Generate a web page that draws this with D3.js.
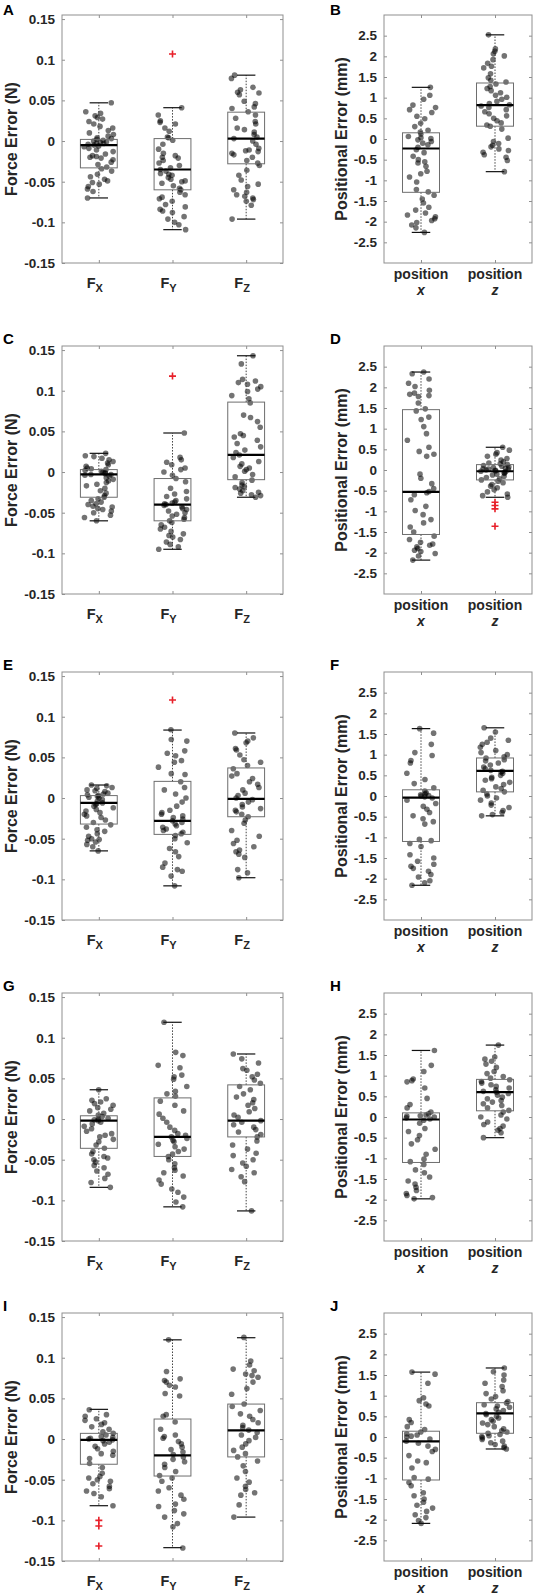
<!DOCTYPE html>
<html>
<head>
<meta charset="utf-8">
<script src="https://cdn.jsdelivr.net/npm/d3@7"></script>
<style>
  body { margin: 0; background: #fff; }
  svg { display: block; }
</style>
</head>
<body>
<div id="chart"></div>
<script>
    'use strict';

    // ---- data -------------------------------------------------------------
    var forceCats = ['X', 'Y', 'Z'];
    var posCats = ['x', 'z'];
    var forceTicks = [-0.15, -0.1, -0.05, 0, 0.05, 0.1, 0.15];
    var posTicks = [-2.5, -2, -1.5, -1, -0.5, 0, 0.5, 1, 1.5, 2, 2.5];

    // box stats per group: [lower whisker, q1, median, q3, upper whisker]
    var statsA = [[-0.070, -0.033, -0.005, 0.002, 0.047], [-0.109, -0.060, -0.035, 0.003, 0.041], [-0.096, -0.028, 0.003, 0.0355, 0.081]];
    var statsB = [[-2.26, -1.29, -0.23, 0.15, 1.25], [-0.79, 0.31, 0.82, 1.355, 2.52]];
    var statsC = [[-0.060, -0.031, -0.003, 0.003, 0.023], [-0.095, -0.060, -0.040, -0.008, 0.048], [-0.031, -0.0094, 0.021, 0.086, 0.143]];
    var statsD = [[-2.18, -1.56, -0.53, 1.46, 2.37], [-0.66, -0.24, -0.03, 0.13, 0.55]];
    var statsE = [[-0.065, -0.032, -0.006, 0.003, 0.016], [-0.108, -0.0447, -0.028, 0.0205, 0.0836], [-0.098, -0.023, -0.001, 0.037, 0.080]];
    var statsF = [[-2.16, -1.10, -0.04, 0.15, 1.63], [-0.48, 0.10, 0.61, 0.92, 1.65]];
    var statsG = [[-0.084, -0.036, -0.002, 0.004, 0.036], [-0.108, -0.046, -0.022, 0.026, 0.119], [-0.113, -0.022, -0.002, 0.042, 0.080]];
    var statsH = [[-1.98, -1.10, -0.06, 0.10, 1.61], [-0.50, 0.15, 0.60, 0.91, 1.74]];
    var statsI = [[-0.082, -0.031, -0.001, 0.007, 0.0365], [-0.1336, -0.0455, -0.020, 0.0246, 0.122], [-0.096, -0.022, 0.0107, 0.043, 0.1246]];
    var statsJ = [[-2.09, -1.04, -0.105, 0.14, 1.57], [-0.29, 0.09, 0.57, 0.83, 1.67]];

    var outliersA = [[], [0.107], []];
    var outliersB = [[], []];
    var outliersC = [[], [0.118], []];
    var outliersD = [[], [-0.78, -0.86, -0.94, -1.36]];
    var outliersE = [[], [0.1205], []];
    var outliersF = [[], []];
    var outliersG = [[], [], []];
    var outliersH = [[], []];
    var outliersI = [[-0.100, -0.107, -0.1315], [], []];
    var outliersJ = [[], []];

    var pointsA = [
        [0.047, 0.036, 0.034, 0.031, 0.029, 0.027, 0.024, 0.021, 0.018, 0.016, 0.013, 0.010, 0.008, 0.006, 0.004, 0.003, 0.002, 0.001, 0.000, -0.001, -0.002, -0.003, -0.003, -0.004, -0.005, -0.006, -0.007, -0.009, -0.011, -0.013, -0.016, -0.018, -0.019, -0.020, -0.021, -0.023, -0.026, -0.029, -0.032, -0.034, -0.037, -0.041, -0.044, -0.047, -0.049, -0.051, -0.053, -0.056, -0.059, -0.062, -0.070],
        [0.041, 0.032, 0.025, 0.023, 0.021, 0.016, 0.012, 0.005, 0.004, 0.001, -0.004, -0.010, -0.015, -0.018, -0.020, -0.021, -0.024, -0.027, -0.030, -0.033, -0.035, -0.037, -0.040, -0.041, -0.042, -0.045, -0.047, -0.049, -0.050, -0.052, -0.055, -0.058, -0.060, -0.063, -0.066, -0.069, -0.071, -0.074, -0.078, -0.081, -0.084, -0.086, -0.088, -0.093, -0.096, -0.100, -0.103, -0.109],
        [0.081, 0.077, 0.066, 0.063, 0.060, 0.059, 0.057, 0.049, 0.046, 0.042, 0.040, 0.036, 0.032, 0.028, 0.024, 0.021, 0.016, 0.014, 0.011, 0.008, 0.005, 0.003, 0.000, -0.004, -0.009, -0.011, -0.012, -0.013, -0.015, -0.017, -0.020, -0.024, -0.027, -0.030, -0.036, -0.042, -0.048, -0.053, -0.056, -0.060, -0.063, -0.066, -0.068, -0.070, -0.072, -0.074, -0.079, -0.096]
    ];
    var pointsB = [
        [1.25, 1.06, 0.96, 0.82, 0.76, 0.71, 0.64, 0.55, 0.49, 0.38, 0.30, 0.21, 0.17, 0.12, 0.06, 0.03, 0.01, -0.02, -0.06, -0.10, -0.14, -0.20, -0.26, -0.33, -0.42, -0.50, -0.55, -0.58, -0.66, -0.78, -0.84, -0.92, -1.04, -1.22, -1.28, -1.36, -1.45, -1.55, -1.65, -1.72, -1.79, -1.84, -1.88, -1.93, -1.97, -2.02, -2.08, -2.15, -2.26],
        [2.52, 2.18, 2.12, 2.06, 2.01, 1.92, 1.83, 1.76, 1.72, 1.58, 1.48, 1.42, 1.38, 1.33, 1.27, 1.22, 1.17, 1.12, 1.06, 1.01, 0.96, 0.91, 0.86, 0.83, 0.80, 0.76, 0.71, 0.66, 0.61, 0.56, 0.50, 0.44, 0.39, 0.34, 0.31, 0.24, 0.02, -0.06, -0.11, -0.15, -0.19, -0.24, -0.28, -0.32, -0.38, -0.44, -0.52, -0.79]
    ];
    var pointsC = [
        [0.023, 0.020, 0.019, 0.017, 0.015, 0.013, 0.011, 0.009, 0.007, 0.005, 0.004, 0.003, 0.002, 0.001, 0.000, -0.001, -0.002, -0.003, -0.003, -0.004, -0.005, -0.007, -0.009, -0.011, -0.013, -0.015, -0.017, -0.020, -0.023, -0.026, -0.029, -0.031, -0.033, -0.035, -0.037, -0.039, -0.040, -0.042, -0.043, -0.045, -0.046, -0.048, -0.050, -0.053, -0.056, -0.060],
        [0.048, 0.018, 0.015, 0.012, 0.009, 0.005, 0.003, 0.000, -0.004, -0.008, -0.012, -0.020, -0.024, -0.027, -0.030, -0.033, -0.035, -0.037, -0.038, -0.039, -0.040, -0.041, -0.043, -0.045, -0.046, -0.048, -0.050, -0.052, -0.054, -0.056, -0.058, -0.060, -0.062, -0.065, -0.068, -0.070, -0.073, -0.076, -0.078, -0.080, -0.083, -0.086, -0.089, -0.092, -0.095],
        [0.143, 0.133, 0.114, 0.112, 0.110, 0.108, 0.105, 0.102, 0.099, 0.094, 0.090, 0.085, 0.070, 0.067, 0.062, 0.055, 0.047, 0.045, 0.043, 0.039, 0.035, 0.031, 0.027, 0.024, 0.021, 0.018, 0.013, 0.010, 0.007, 0.005, 0.003, 0.001, -0.003, -0.006, -0.010, -0.013, -0.016, -0.018, -0.019, -0.021, -0.023, -0.025, -0.026, -0.028, -0.029, -0.031]
    ];
    var pointsD = [
        [2.37, 2.33, 2.20, 2.10, 2.02, 1.93, 1.86, 1.83, 1.80, 1.78, 1.62, 1.48, 1.43, 1.28, 1.22, 1.05, 0.88, 0.72, 0.55, 0.45, 0.38, 0.33, -0.10, -0.20, -0.33, -0.45, -0.52, -0.55, -0.60, -0.72, -0.88, -0.98, -1.08, -1.20, -1.28, -1.38, -1.50, -1.60, -1.68, -1.75, -1.79, -1.82, -1.86, -1.90, -1.94, -1.97, -2.02, -2.08, -2.18],
        [0.55, 0.48, 0.42, 0.38, 0.33, 0.28, 0.24, 0.20, 0.17, 0.15, 0.13, 0.11, 0.09, 0.07, 0.06, 0.04, 0.03, 0.02, 0.01, 0.00, -0.01, -0.02, -0.03, -0.04, -0.06, -0.08, -0.10, -0.12, -0.15, -0.18, -0.21, -0.24, -0.27, -0.31, -0.35, -0.39, -0.43, -0.48, -0.53, -0.58, -0.62, -0.66]
    ];
    var pointsE = [
        [0.016, 0.015, 0.013, 0.012, 0.010, 0.009, 0.008, 0.006, 0.005, 0.004, 0.003, 0.002, 0.001, 0.000, -0.002, -0.004, -0.006, -0.007, -0.008, -0.010, -0.012, -0.014, -0.016, -0.018, -0.020, -0.022, -0.024, -0.027, -0.030, -0.033, -0.036, -0.039, -0.041, -0.044, -0.047, -0.050, -0.051, -0.052, -0.054, -0.057, -0.060, -0.065],
        [0.084, 0.072, 0.070, 0.058, 0.055, 0.052, 0.046, 0.044, 0.038, 0.030, 0.029, 0.020, 0.013, 0.010, 0.005, 0.000, -0.005, -0.010, -0.015, -0.018, -0.020, -0.022, -0.024, -0.026, -0.028, -0.030, -0.032, -0.034, -0.036, -0.038, -0.040, -0.042, -0.044, -0.046, -0.050, -0.055, -0.062, -0.066, -0.072, -0.080, -0.085, -0.088, -0.090, -0.096, -0.108],
        [0.080, 0.074, 0.070, 0.068, 0.061, 0.059, 0.053, 0.047, 0.044, 0.040, 0.036, 0.030, 0.027, 0.024, 0.020, 0.017, 0.013, 0.010, 0.006, 0.003, 0.000, -0.002, -0.005, -0.008, -0.011, -0.013, -0.015, -0.017, -0.020, -0.023, -0.027, -0.031, -0.040, -0.047, -0.052, -0.056, -0.060, -0.064, -0.066, -0.069, -0.073, -0.088, -0.092, -0.098]
    ];
    var pointsF = [
        [1.63, 1.52, 1.25, 1.05, 0.98, 0.86, 0.80, 0.55, 0.40, 0.30, 0.20, 0.12, 0.08, 0.05, 0.03, 0.01, 0.00, -0.02, -0.05, -0.10, -0.18, -0.25, -0.32, -0.40, -0.48, -0.55, -0.62, -0.68, -1.05, -1.08, -1.15, -1.22, -1.42, -1.50, -1.58, -1.65, -1.70, -1.75, -1.82, -1.90, -1.96, -2.05, -2.10, -2.16],
        [1.65, 1.55, 1.40, 1.35, 1.30, 1.25, 1.18, 1.10, 1.05, 1.00, 0.95, 0.92, 0.88, 0.85, 0.80, 0.75, 0.70, 0.66, 0.62, 0.60, 0.58, 0.55, 0.50, 0.45, 0.42, 0.38, 0.33, 0.28, 0.22, 0.18, 0.14, 0.10, 0.05, 0.00, -0.05, -0.10, -0.17, -0.22, -0.28, -0.35, -0.40, -0.45, -0.48]
    ];
    var pointsG = [
        [0.036, 0.025, 0.023, 0.021, 0.019, 0.017, 0.014, 0.012, 0.010, 0.007, 0.005, 0.003, 0.001, 0.000, -0.001, -0.002, -0.004, -0.006, -0.009, -0.012, -0.015, -0.018, -0.020, -0.022, -0.025, -0.028, -0.032, -0.036, -0.040, -0.043, -0.046, -0.048, -0.050, -0.053, -0.057, -0.060, -0.064, -0.068, -0.073, -0.078, -0.084],
        [0.119, 0.082, 0.078, 0.066, 0.063, 0.054, 0.052, 0.049, 0.040, 0.034, 0.031, 0.028, 0.022, 0.017, 0.010, 0.006, 0.001, -0.004, -0.010, -0.014, -0.018, -0.020, -0.022, -0.024, -0.026, -0.028, -0.031, -0.034, -0.037, -0.040, -0.043, -0.046, -0.050, -0.055, -0.060, -0.063, -0.066, -0.070, -0.075, -0.080, -0.086, -0.090, -0.096, -0.102, -0.108],
        [0.080, 0.074, 0.069, 0.062, 0.060, 0.055, 0.052, 0.048, 0.044, 0.040, 0.036, 0.031, 0.027, 0.024, 0.020, 0.017, 0.013, 0.009, 0.005, 0.002, -0.002, -0.004, -0.007, -0.010, -0.013, -0.016, -0.019, -0.022, -0.027, -0.032, -0.037, -0.042, -0.045, -0.050, -0.054, -0.058, -0.062, -0.066, -0.071, -0.077, -0.113]
    ];
    var pointsH = [
        [1.61, 1.25, 1.10, 0.92, 0.88, 0.85, 0.70, 0.45, 0.30, 0.22, 0.12, 0.08, 0.05, 0.03, 0.02, 0.00, -0.02, -0.05, -0.08, -0.15, -0.28, -0.35, -0.45, -0.55, -0.65, -0.78, -0.90, -1.02, -1.08, -1.15, -1.28, -1.35, -1.45, -1.55, -1.62, -1.70, -1.78, -1.85, -1.90, -1.95, -1.98],
        [1.74, 1.45, 1.40, 1.35, 1.28, 1.20, 1.10, 1.05, 0.98, 0.94, 0.90, 0.86, 0.82, 0.78, 0.74, 0.70, 0.66, 0.62, 0.60, 0.57, 0.53, 0.48, 0.44, 0.40, 0.36, 0.32, 0.28, 0.22, 0.16, 0.12, 0.05, 0.00, -0.05, -0.12, -0.18, -0.22, -0.28, -0.32, -0.38, -0.50]
    ];
    var pointsI = [
        [0.036, 0.030, 0.028, 0.025, 0.023, 0.020, 0.018, 0.015, 0.012, 0.009, 0.007, 0.005, 0.003, 0.002, 0.001, 0.000, -0.001, -0.002, -0.004, -0.006, -0.009, -0.012, -0.015, -0.018, -0.020, -0.024, -0.030, -0.035, -0.042, -0.046, -0.048, -0.050, -0.052, -0.055, -0.058, -0.061, -0.064, -0.067, -0.071, -0.082],
        [0.122, 0.083, 0.074, 0.072, 0.070, 0.066, 0.064, 0.056, 0.053, 0.030, 0.028, 0.021, 0.012, 0.005, 0.003, 0.001, -0.003, -0.006, -0.010, -0.013, -0.016, -0.019, -0.022, -0.025, -0.028, -0.031, -0.035, -0.040, -0.045, -0.048, -0.052, -0.060, -0.064, -0.069, -0.074, -0.080, -0.083, -0.088, -0.092, -0.096, -0.104, -0.108, -0.134],
        [0.125, 0.096, 0.091, 0.086, 0.084, 0.080, 0.078, 0.076, 0.070, 0.062, 0.055, 0.043, 0.040, 0.035, 0.031, 0.028, 0.024, 0.020, 0.017, 0.014, 0.011, 0.008, 0.005, 0.002, -0.002, -0.006, -0.010, -0.014, -0.018, -0.022, -0.027, -0.033, -0.040, -0.048, -0.053, -0.058, -0.062, -0.066, -0.069, -0.081, -0.096]
    ];
    var pointsJ = [
        [1.57, 1.52, 1.30, 0.95, 0.88, 0.80, 0.75, 0.42, 0.35, 0.25, 0.18, 0.12, 0.08, 0.05, 0.02, 0.00, -0.05, -0.10, -0.15, -0.22, -0.30, -0.35, -0.45, -0.58, -0.62, -0.75, -0.98, -1.02, -1.10, -1.18, -1.35, -1.42, -1.50, -1.58, -1.65, -1.72, -1.80, -1.88, -1.95, -2.02, -2.09],
        [1.67, 1.58, 1.50, 1.38, 1.30, 1.22, 1.12, 1.05, 0.98, 0.92, 0.86, 0.82, 0.78, 0.75, 0.72, 0.68, 0.64, 0.60, 0.57, 0.54, 0.50, 0.46, 0.42, 0.38, 0.34, 0.30, 0.25, 0.20, 0.15, 0.12, 0.09, 0.06, 0.03, 0.01, -0.02, -0.06, -0.10, -0.14, -0.18, -0.22, -0.26, -0.29]
    ];

    // ---- layout -----------------------------------------------------------
    var width = 534;
    var height = 1595;
    var rowTops = [15, 346, 672, 993, 1313];
    var frameH = 248;
    var leftX = [62, 283];
    var rightX = [384, 532];
    var font = 'Liberation Sans, Arial, Helvetica, sans-serif';
    var frameColor = '#8f8f8f';
    var textColor = '#262626';

    var svg = d3.select('#chart')
        .append('svg')
        .attr('width', width)
        .attr('height', height)
        .style('font-family', font);

    var fmt = function (d) { return String(+d.toFixed(2)); };

    // fixed horizontal spread of the dots (hash of the index), -0.2 .. 0.2 category units
    var jitter = function (i) {
        var s = Math.sin((i + 1) * 12.9898) * 43758.5453;
        return (s - Math.floor(s) - 0.5) * 0.4;
    };

    var panels = [
        { letter: 'A', row: 0, side: 'left', stats: statsA, points: pointsA, outliers: outliersA },
        { letter: 'B', row: 0, side: 'right', stats: statsB, points: pointsB, outliers: outliersB },
        { letter: 'C', row: 1, side: 'left', stats: statsC, points: pointsC, outliers: outliersC },
        { letter: 'D', row: 1, side: 'right', stats: statsD, points: pointsD, outliers: outliersD },
        { letter: 'E', row: 2, side: 'left', stats: statsE, points: pointsE, outliers: outliersE },
        { letter: 'F', row: 2, side: 'right', stats: statsF, points: pointsF, outliers: outliersF },
        { letter: 'G', row: 3, side: 'left', stats: statsG, points: pointsG, outliers: outliersG },
        { letter: 'H', row: 3, side: 'right', stats: statsH, points: pointsH, outliers: outliersH },
        { letter: 'I', row: 4, side: 'left', stats: statsI, points: pointsI, outliers: outliersI },
        { letter: 'J', row: 4, side: 'right', stats: statsJ, points: pointsJ, outliers: outliersJ }
    ];

    panels.forEach(function (p, pi) { drawPanel(p, pi); });

    function drawPanel(p, pi) {
        var isForce = p.side === 'left';
        var cats = isForce ? forceCats : posCats;
        var xr = isForce ? leftX : rightX;
        var top = rowTops[p.row];
        var bottom = top + frameH;

        var x = d3.scaleLinear().domain([0.5, cats.length + 0.5]).range(xr);
        var y = d3.scaleLinear()
            .domain(isForce ? [-0.15, 0.155] : [-3, 3])
            .range([bottom, top]);

        var g = svg.append('g');

        // axes with inward ticks
        var ticks = isForce ? forceTicks : posTicks;
        var left = g.append('g')
            .attr('transform', 'translate(' + xr[0] + ',0)')
            .call(d3.axisLeft(y).tickValues(ticks).tickSizeInner(-3).tickSizeOuter(0).tickPadding(7).tickFormat(fmt));
        g.append('g')
            .attr('transform', 'translate(' + xr[1] + ',0)')
            .call(d3.axisRight(y).tickValues(ticks).tickSizeInner(-3).tickSizeOuter(0).tickFormat(''));
        var catIdx = d3.range(1, cats.length + 1);
        g.append('g')
            .attr('transform', 'translate(0,' + bottom + ')')
            .call(d3.axisBottom(x).tickValues(catIdx).tickSizeInner(-3).tickSizeOuter(0).tickFormat(''));
        g.append('g')
            .attr('transform', 'translate(0,' + top + ')')
            .call(d3.axisTop(x).tickValues(catIdx).tickSizeInner(-3).tickSizeOuter(0).tickFormat(''));
        g.selectAll('.domain').remove();
        g.selectAll('.tick line').attr('stroke', frameColor);
        left.selectAll('text')
            .attr('font-family', font)
            .attr('font-size', 13.5)
            .attr('font-weight', 'bold')
            .attr('fill', textColor);

        g.append('rect')
            .attr('x', xr[0])
            .attr('y', top)
            .attr('width', xr[1] - xr[0])
            .attr('height', frameH)
            .attr('fill', 'none')
            .attr('stroke', frameColor)
            .attr('stroke-width', 1);

        // jittered points
        p.points.forEach(function (vals, ci) {
            g.append('g').selectAll('circle')
                .data(vals)
                .join('circle')
                .attr('cx', function (d, i) { return x(ci + 1 + jitter(i + ci * 61 + pi * 211)); })
                .attr('cy', function (d) { return y(d); })
                .attr('r', 2.8)
                .attr('fill', '#000')
                .attr('fill-opacity', 0.55);
        });

        // boxes
        p.stats.forEach(function (s, ci) {
            var cx = x(ci + 1);
            var hw = x(1.25) - x(1);
            var cw = x(1.125) - x(1);
            var bg = g.append('g');
            bg.append('line')
                .attr('x1', cx).attr('x2', cx)
                .attr('y1', y(s[3])).attr('y2', y(s[4]))
                .attr('stroke', '#444').attr('stroke-dasharray', '1.5,1.5');
            bg.append('line')
                .attr('x1', cx).attr('x2', cx)
                .attr('y1', y(s[1])).attr('y2', y(s[0]))
                .attr('stroke', '#444').attr('stroke-dasharray', '1.5,1.5');
            bg.append('rect')
                .attr('x', cx - hw)
                .attr('y', y(s[3]))
                .attr('width', 2 * hw)
                .attr('height', y(s[1]) - y(s[3]))
                .attr('fill', 'none')
                .attr('stroke', '#6e6e6e')
                .attr('stroke-width', 1);
            [s[0], s[4]].forEach(function (v) {
                bg.append('line')
                    .attr('x1', cx - cw).attr('x2', cx + cw)
                    .attr('y1', y(v)).attr('y2', y(v))
                    .attr('stroke', '#111').attr('stroke-width', 1.2);
            });
            bg.append('line')
                .attr('x1', cx - hw).attr('x2', cx + hw)
                .attr('y1', y(s[2])).attr('y2', y(s[2]))
                .attr('stroke', '#000').attr('stroke-width', 2.2);
        });

        // outliers
        p.outliers.forEach(function (vals, ci) {
            g.append('g').selectAll('path')
                .data(vals)
                .join('path')
                .attr('d', function (d) {
                    var cx = x(ci + 1), cy = y(d);
                    return 'M' + (cx - 3.5) + ',' + cy + 'H' + (cx + 3.5) + 'M' + cx + ',' + (cy - 3.5) + 'V' + (cy + 3.5);
                })
                .attr('stroke', '#e8202a')
                .attr('stroke-width', 1.6);
        });

        // category labels
        cats.forEach(function (c, ci) {
            var cx = x(ci + 1);
            if (isForce) {
                var t = g.append('text')
                    .attr('x', cx - 4)
                    .attr('y', bottom + 25)
                    .attr('text-anchor', 'middle')
                    .attr('font-size', 14.5)
                    .attr('font-weight', 'bold')
                    .attr('fill', textColor);
                t.append('tspan').text('F');
                t.append('tspan').attr('dy', 4).attr('font-size', 11).text(c);
            } else {
                g.append('text')
                    .attr('x', cx)
                    .attr('y', bottom + 16)
                    .attr('text-anchor', 'middle')
                    .attr('font-size', 14)
                    .attr('font-weight', 'bold')
                    .attr('fill', textColor)
                    .text('position');
                g.append('text')
                    .attr('x', cx)
                    .attr('y', bottom + 32)
                    .attr('text-anchor', 'middle')
                    .attr('font-size', 14)
                    .attr('font-weight', 'bold')
                    .attr('font-style', 'italic')
                    .attr('fill', textColor)
                    .text(c);
            }
        });

        // y title
        var tx = isForce ? 17 : 347;
        g.append('text')
            .attr('transform', 'translate(' + tx + ',' + (top + frameH / 2) + ') rotate(-90)')
            .attr('text-anchor', 'middle')
            .attr('font-size', 16)
            .attr('font-weight', 'bold')
            .attr('fill', textColor)
            .text(isForce ? 'Force Error (N)' : 'Positional Error (mm)');

        // panel letter
        g.append('text')
            .attr('x', isForce ? 3 : 330)
            .attr('y', p.row === 0 ? 15 : top - 2)
            .attr('font-size', 15)
            .attr('font-weight', 'bold')
            .attr('fill', '#000')
            .text(p.letter);
    }
</script>
</body>
</html>
